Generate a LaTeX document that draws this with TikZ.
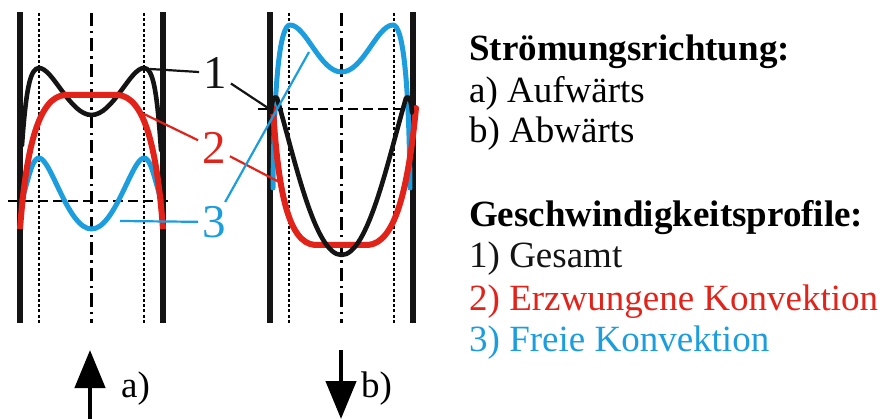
\documentclass[tikz,border=0pt]{standalone}
\usepackage{fontspec}
\setmainfont{Liberation Serif}
\usetikzlibrary{arrows.meta, positioning}
\definecolor{gesamtcolor}{HTML}{141414}
\definecolor{erzwcolor}{HTML}{E2231A}
\definecolor{freicolor}{HTML}{1B9DDE}

\begin{document}
\begin{tikzpicture}[x=1pt, y=-1pt,
    wall/.style={line width=5.5pt, gesamtcolor, line cap=butt},
    wandnah/.style={line width=2.2pt, dash pattern=on 3pt off 2.2pt},
    achse/.style={line width=2.4pt, dash pattern=on 13pt off 5pt on 2.5pt off 5pt},
    niveau/.style={line width=2.2pt, dash pattern=on 10pt off 5pt},
    profil/.style={line width=5pt, line cap=round, line join=round},
    lead/.style={line width=2.2pt},
    nummer/.style={font=\fontsize{47}{50}\selectfont, inner sep=4pt},
    txt/.style={font=\fontsize{37}{41}\selectfont, anchor=base west, inner sep=0pt},
    flow/.style={line width=4.5pt, -{Triangle[length=38pt, width=30pt]}}
]
    \useasboundingbox (0,0) rectangle (885,419);

    % --- Rohrwand, wandnahe Zone, Achse ---
    \foreach \xs/\yn in {20/201, 270/109} {
        \begin{scope}[shift={(\xs,0)}]
            \draw[wandnah] (19,13) -- (19,323);
            \draw[wandnah] (124,13) -- (124,323);
            \draw[achse] (71.5,13) -- (71.5,323);
            \draw[niveau] (-12,\yn) -- (152,\yn);
            \draw[wall] (0,12) -- (0,323);
            \draw[wall] (143,12) -- (143,323);
        \end{scope}
    }

    % --- a) Aufwaerts ---
    \begin{scope}[shift={(20,0)}]
        \draw[profil, gesamtcolor, line width=4.6pt] (2,145) .. controls (6,90) and (10,68) .. (19,68)
            .. controls (33,68) and (50,115) .. (71.5,115)
            .. controls (93,115) and (110,68) .. (124,68)
            .. controls (133,68) and (137,90) .. (141,150);
        \draw[profil, freicolor] (2,200) .. controls (10,172) and (13,158) .. (19,158)
            .. controls (31,158) and (48,229) .. (71.5,229)
            .. controls (95,229) and (112,158) .. (124,158)
            .. controls (130,158) and (133,172) .. (141,200);
        \draw[profil, erzwcolor, line width=6pt, line cap=butt] (0,229) .. controls (6,150) and (18,97) .. (45,95)
            -- (98,95) .. controls (125,97) and (137,150) .. (143,229);
        \coordinate (a1) at (130,69);
        \coordinate (a2) at (124,114);
        \coordinate (a3) at (100,221);
    \end{scope}

    % --- b) Abwaerts ---
    \begin{scope}[shift={(270,0)}]
        \draw[profil, freicolor] (3,188) .. controls (4,80) and (10,25) .. (20,25)
            .. controls (36,25) and (50,72) .. (71.5,72)
            .. controls (93,72) and (107,25) .. (123,25)
            .. controls (133,25) and (139,80) .. (140,188);
        \draw[profil, erzwcolor, line width=6pt] (3,108) .. controls (8,190) and (18,243) .. (45,245)
            -- (98,245) .. controls (125,243) and (138,190) .. (146,108);
        \draw[profil, gesamtcolor, line width=4.6pt] (1,112) .. controls (2,100) and (4,95) .. (7,98)
            .. controls (25,160) and (45,255) .. (71.5,255)
            .. controls (98,255) and (118,160) .. (136,98)
            .. controls (139,95) and (141,100) .. (142,112);
        \coordinate (b1) at (1,110);
        \coordinate (b2) at (13,184);
        \coordinate (b3) at (39,52);
    \end{scope}

    % --- Bezeichnungen 1, 2, 3 ---
    \node[nummer, gesamtcolor] (n1) at (215,73) {1};
    \node[nummer, erzwcolor] (n2) at (214,148) {2};
    \node[nummer, freicolor] (n3) at (214,222) {3};
    \draw[lead, gesamtcolor] (n1) -- (a1);
    \draw[lead, gesamtcolor] (n1) -- (b1);
    \draw[lead, erzwcolor] (n2) -- (a2);
    \draw[lead, erzwcolor] (n2) -- (b2);
    \draw[lead, freicolor] (n3) -- (a3);
    \draw[lead, freicolor] (n3) -- (b3);

    % --- Stroemungsrichtung ---
    \coordinate (aufA) at (90,419);
    \coordinate (aufB) at (90,350);
    \coordinate (abA) at (341,350);
    \coordinate (abB) at (341,419);
    \draw[flow] (aufA) -- (aufB);
    \draw[flow] (abA) -- (abB);
    \node[txt] (la) at (121,397) {a)};
    \node[txt] (lb) at (361,397) {b)};

    % --- Legende ---
    \node[txt, font=\fontsize{37}{41}\selectfont\bfseries] (h1) at (469,61) {Strömungsrichtung:};
    \node[txt] (r1) at (469,103) {a) Aufwärts};
    \node[txt] (r2) at (469,143) {b) Abwärts};
    \node[txt, font=\fontsize{37}{41}\selectfont\bfseries] (h2) at (469,227) {Geschwindigkeitsprofile:};
    \node[txt, gesamtcolor] (p1) at (469,268) {1) Gesamt};
    \node[txt, erzwcolor] (p2) at (469,310) {2) Erzwungene Konvektion};
    \node[txt, freicolor] (p3) at (469,351) {3) Freie Konvektion};
\end{tikzpicture}
\end{document}
